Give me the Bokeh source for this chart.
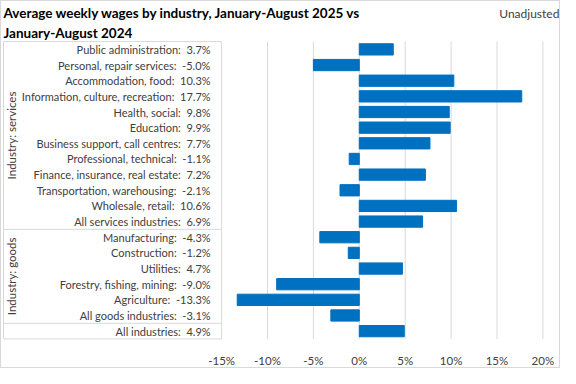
import math
from bokeh.plotting import figure
from bokeh.models import Range1d, ColumnDataSource, FixedTicker
from bokeh.core.properties import value
from bokeh.embed import file_html
from bokeh.resources import INLINE

# ---- data ----
services = ["Public administration", "Personal, repair services", "Accommodation, food",
            "Information, culture, recreation", "Health, social", "Education",
            "Business support, call centres", "Professional, technical",
            "Finance, insurance, real estate", "Transportation, warehousing",
            "Wholesale, retail", "All services industries"]
services_values = [3.7, -5.0, 10.3, 17.7, 9.8, 9.9, 7.7, -1.1, 7.2, -2.1, 10.6, 6.9]
goods = ["Manufacturing", "Construction", "Utilities", "Forestry, fishing, mining",
         "Agriculture", "All goods industries"]
goods_values = [-4.3, -1.2, 4.7, -9.0, -13.3, -3.1]
total = ["All industries"]
total_values = [4.9]
group_labels = ["Industry: services", "Industry: goods"]
tick_values = [-15, -10, -5, 0, 5, 10, 15, 20]
tick_labels = ["-15%", "-10%", "-5%", "0%", "5%", "10%", "15%", "20%"]
title_lines = ["Average weekly wages by industry, January-August 2025 vs",
               "January-August 2024"]
note = "Unadjusted"

FONT = "Lato"
BLUE = "#0070C0"
GRID = "#d9d9d9"
TXT = "#404040"

names = services + goods + total
vals = services_values + goods_values + total_values
rows = list(range(len(names)))
labels = [f"{n}:\u00a0 {v:.1f}%" for n, v in zip(names, vals)]
src = ColumnDataSource(dict(row=rows, value=vals, label=labels))

n = len(names)
x_left, x_right = -38.98, 22.03
table_left = -38.76
table_right = tick_values[0]

p = figure(width=560, height=368, output_backend="svg", toolbar_location=None,
           x_range=Range1d(x_left, x_right), y_range=Range1d(18.79, -3.06),
           min_border_left=0, min_border_right=0, min_border_top=0, min_border_bottom=25,
           y_axis_location=None)
p.outline_line_color = None
p.xgrid.visible = False
p.ygrid.visible = False
p.styles = {"border": "1px solid #d9d9d9"}

ax = p.xaxis[0]
ax.ticker = FixedTicker(ticks=tick_values)
ax.major_label_overrides = {t: l for t, l in zip(tick_values, tick_labels)}
ax.axis_line_color = None
ax.major_tick_line_color = None
ax.minor_tick_line_color = None
ax.major_label_standoff = 4
ax.major_label_text_font = FONT
ax.major_label_text_font_size = "11.5px"
ax.major_label_text_color = TXT

# gridlines (within the table extent)
p.segment(x0=tick_values, y0=[-0.5] * len(tick_values), x1=tick_values,
          y1=[n - 0.5] * len(tick_values), line_color=GRID, line_width=1)

# table lines
ns, ng = len(services), len(goods)
hy = [-0.5, ns - 0.5, ns + ng - 0.5, n - 0.5]
p.segment(x0=[table_left] * len(hy), y0=hy, x1=[table_right] * len(hy), y1=hy,
          line_color=GRID, line_width=1)
p.segment(x0=[table_left], y0=[-0.5], x1=[table_left], y1=[n - 0.5],
          line_color=GRID, line_width=1)

# bars
p.hbar(y="row", left=0, right="value", height=0.72, color=BLUE, source=src)

# category labels
p.text(x=-16.2, y="row", text="label", source=src, text_align="right",
       text_baseline="middle", text_font=value(FONT), text_font_size="11px",
       text_color=TXT)

# group labels
p.text(x=[-37.9, -37.9], y=[(ns - 1) / 2, ns + (ng - 1) / 2], text=group_labels,
       angle=math.pi / 2, text_align="center", text_baseline="middle",
       text_font=value(FONT), text_font_size="11.5px", text_color=TXT)

# title and note
p.text(x=[table_left, table_left], y=[-2.32, -1.04], text=title_lines,
       text_align="left", text_baseline="middle", text_font=value(FONT),
       text_font_size="13.5px", text_font_style="bold", text_color="#000000")
p.text(x=[21.8], y=[-2.32], text=[note], text_align="right", text_baseline="middle",
       text_font=value(FONT), text_font_size="12px", text_color=TXT)

open("out.html", "w").write(file_html(p, INLINE))
